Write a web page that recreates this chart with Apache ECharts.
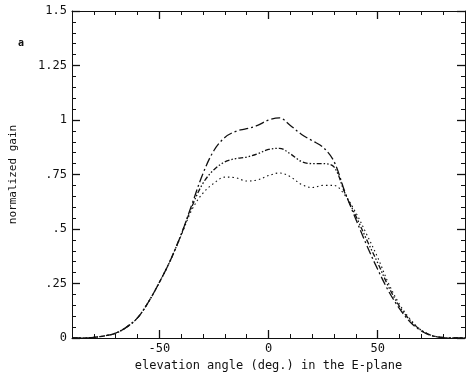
<!DOCTYPE html>
<html>
<head>
<meta charset="utf-8">
<script src="https://cdn.jsdelivr.net/npm/echarts@6/dist/echarts.min.js"></script>
<style>
  html, body { margin: 0; padding: 0; background: #fff; }
  #chart { width: 467px; height: 379px; }
</style>
</head>
<body>
<div id="chart"></div>
<script>
// Elevation angle in degrees
const angles = [-90,-85,-80,-75,-70,-65,-60,-55,-50,-45,-40,-35,-30,-25,-20,-15,-10,-5,0,5,10,15,20,25,30,35,40,45,50,55,60,65,70,75,80,85,90];

// Normalized gain, three patterns
const gainA = [0,0,0.003,0.01,0.022,0.05,0.092,0.165,0.255,0.355,0.475,0.615,0.755,0.86,0.92,0.948,0.96,0.975,1.0,1.01,0.975,0.935,0.905,0.875,0.81,0.67,0.545,0.425,0.315,0.215,0.135,0.072,0.032,0.01,0.002,0,0];
const gainB = [0,0,0.003,0.01,0.022,0.05,0.092,0.165,0.255,0.355,0.475,0.605,0.71,0.772,0.808,0.823,0.83,0.845,0.865,0.87,0.845,0.81,0.80,0.80,0.785,0.665,0.56,0.45,0.345,0.235,0.145,0.08,0.035,0.011,0.002,0,0];
const gainC = [0,0,0.003,0.01,0.022,0.05,0.092,0.165,0.255,0.355,0.47,0.59,0.665,0.71,0.738,0.735,0.72,0.725,0.745,0.757,0.74,0.705,0.69,0.70,0.70,0.655,0.575,0.475,0.37,0.25,0.155,0.085,0.036,0.011,0.002,0,0];

// Tick labels
const xLabels = [-50, 0, 50];
const yLabels = [0, 0.25, 0.5, 0.75, 1, 1.25, 1.5];
const yLabelText = ['0', '.25', '.5', '.75', '1', '1.25', '1.5'];

const font = 'DejaVu Sans Mono';
const ink = '#111';

function pairs(vals) { return angles.map((a, i) => [a, vals[i]]); }

function minorAxis(pos, extra) {
  return Object.assign({
    type: 'value', position: pos,
    axisLine: { show: true, onZero: false, lineStyle: { color: ink, width: 1 } },
    axisTick: { show: true, inside: true, length: 4, lineStyle: { color: ink, width: 1 } },
    axisLabel: { show: false },
    splitLine: { show: false }
  }, extra);
}

function majorAxis(pos, ticks, extra) {
  return Object.assign({
    type: 'value', position: pos,
    axisLine: { show: false, onZero: false },
    axisTick: { show: true, inside: true, length: 8, customValues: ticks, lineStyle: { color: ink, width: 1.3 } },
    axisLabel: { show: false },
    splitLine: { show: false }
  }, extra);
}

const xRange = { min: -90, max: 90 };
const yRange = { min: 0, max: 1.5 };

const chart = echarts.init(document.getElementById('chart'), null, { renderer: 'canvas' });

chart.setOption({
  animation: false,
  backgroundColor: '#fff',
  grid: { left: 72, right: 2, top: 11, bottom: 41, containLabel: false },
  xAxis: [
    minorAxis('bottom', Object.assign({ interval: 10 }, xRange)),
    majorAxis('bottom', xLabels, Object.assign({
      axisLabel: {
        show: true, customValues: xLabels, margin: 5,
        fontFamily: font, fontSize: 12, color: ink
      },
      name: 'elevation angle (deg.) in the E-plane',
      nameLocation: 'middle', nameGap: 20,
      nameTextStyle: { fontFamily: font, fontSize: 12, color: ink }
    }, xRange)),
    minorAxis('top', Object.assign({ interval: 10 }, xRange)),
    majorAxis('top', xLabels, xRange)
  ],
  yAxis: [
    minorAxis('left', Object.assign({ interval: 0.05 }, yRange)),
    majorAxis('left', yLabels, Object.assign({
      axisLabel: {
        show: true, customValues: yLabels, margin: 5,
        fontFamily: font, fontSize: 12, color: ink,
        formatter: v => yLabelText[yLabels.findIndex(t => Math.abs(t - v) < 1e-9)]
      },
      name: 'normalized gain',
      nameLocation: 'middle', nameGap: 53, nameRotate: 90,
      nameTextStyle: { fontFamily: font, fontSize: 11, color: ink }
    }, yRange)),
    minorAxis('right', Object.assign({ interval: 0.05 }, yRange)),
    majorAxis('right', yLabels, yRange)
  ],
  graphic: [
    { type: 'text', left: 18, top: 38,
      style: { text: 'a', font: 'bold 10px ' + font, fill: ink } }
  ],
  series: [
    { type: 'line', data: pairs(gainA), xAxisIndex: 0, yAxisIndex: 0,
      showSymbol: false, smooth: 0.35,
      lineStyle: { color: ink, width: 1.3, type: [9, 3, 2, 3] } },
    { type: 'line', data: pairs(gainB), xAxisIndex: 0, yAxisIndex: 0,
      showSymbol: false, smooth: 0.35,
      lineStyle: { color: ink, width: 1.3, type: [5, 2, 1.5, 2, 1.5, 2] } },
    { type: 'line', data: pairs(gainC), xAxisIndex: 0, yAxisIndex: 0,
      showSymbol: false, smooth: 0.35,
      lineStyle: { color: ink, width: 1.1, type: [1.5, 3] } }
  ]
});
</script>
</body>
</html>
